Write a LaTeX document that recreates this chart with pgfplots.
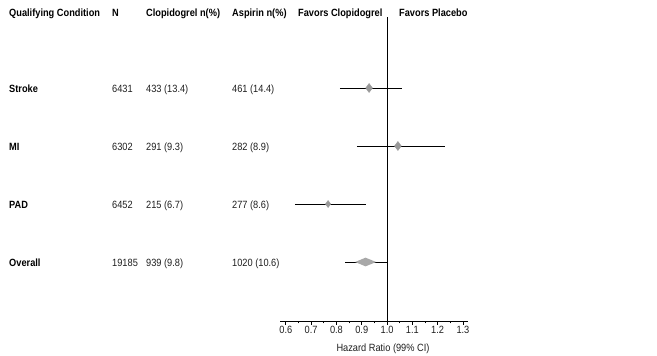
\documentclass[border=0pt]{standalone}
\usepackage{pgfplots}
\pgfplotsset{compat=1.18}
\usepackage{fontspec}
\setmainfont{Liberation Sans}[FakeStretch=0.88]
\definecolor{mk}{HTML}{999999}
\definecolor{txt}{HTML}{1E1E1E}
\begin{document}
\begin{tikzpicture}[x=1pt,y=1pt]
\useasboundingbox (0,0) rectangle (657,356);
\begin{axis}[
  at={(280pt,35pt)}, anchor=south west,
  scale only axis, width=187.5pt, height=304pt,
  xmin=0.577, xmax=1.318, ymin=-0.017, ymax=5.224,
  axis x line*=bottom, axis y line=none,
  clip=false,
  xtick={0.6,0.7,0.8,0.9,1.0,1.1,1.2,1.3},
  minor xtick={0.65,0.75,0.85,0.95,1.05,1.15,1.25},
  tick align=outside,
  major tick length=4pt, minor tick length=2.5pt,
  every tick/.style={black, line width=0.7pt},
  axis line style={black, line width=0.8pt, -},
  xticklabel style={/pgf/number format/fixed, /pgf/number format/fixed zerofill, /pgf/number format/precision=1, font=\fontsize{10.5}{12}\selectfont, text=txt, inner sep=1pt},
  /pgf/number format/assume math mode=true,
  ytick=\empty,
]
% reference line at HR = 1
\addplot[black, line width=0.8pt] coordinates {(1.0,-0.017) (1.0,5.224)};
% confidence intervals
\addplot[black, line width=0.8pt] coordinates {(0.814,4) (1.059,4)};
\addplot[black, line width=0.8pt] coordinates {(0.881,3) (1.229,3)};
\addplot[black, line width=0.8pt] coordinates {(0.636,2) (0.917,2)};
\addplot[black, line width=0.8pt] coordinates {(0.834,1) (1.0,1)};
% point estimates
\addplot[only marks, mark=diamond*, mark size=4.5pt, mk, mark options={draw=mk, fill=mk}] coordinates {(0.929,4) (1.043,3)};
\addplot[only marks, mark=diamond*, mark size=3.5pt, mk, mark options={draw=mk, fill=mk}] coordinates {(0.767,2)};
% overall diamond
\addplot[fill=mk!85, draw=none] coordinates {(0.874,1) (0.915,1.075) (0.957,1) (0.915,0.925)} -- cycle;
\end{axis}
% x label
\node[anchor=base, text=txt, font=\fontsize{10.5}{12}\selectfont] at (383,4) {Hazard Ratio (99\% CI)};
% header
\begin{scope}[every node/.style={anchor=base west, inner sep=0pt, font=\fontsize{10.5}{12}\selectfont\bfseries, text=black}]
\node at (9,339.5) {Qualifying Condition};
\node at (112,339.5) {N};
\node at (146,339.5) {Clopidogrel n(\%)};
\node at (232,339.5) {Aspirin n(\%)};
\node at (298,339.5) {Favors Clopidogrel};
\node at (399,339.5) {Favors Placebo};
\node at (9,263) {Stroke};
\node at (9,205) {MI};
\node at (9,147) {PAD};
\node at (9,89) {Overall};
\end{scope}
\begin{scope}[every node/.style={anchor=base west, inner sep=0pt, font=\fontsize{10.5}{12}\selectfont, text=txt}]
\node at (112,263) {6431};
\node at (146,263) {433 (13.4)};
\node at (232,263) {461 (14.4)};
\node at (112,205) {6302};
\node at (146,205) {291 (9.3)};
\node at (232,205) {282 (8.9)};
\node at (112,147) {6452};
\node at (146,147) {215 (6.7)};
\node at (232,147) {277 (8.6)};
\node at (112,89) {19185};
\node at (146,89) {939 (9.8)};
\node at (232,89) {1020 (10.6)};
\end{scope}
\end{tikzpicture}
\end{document}
